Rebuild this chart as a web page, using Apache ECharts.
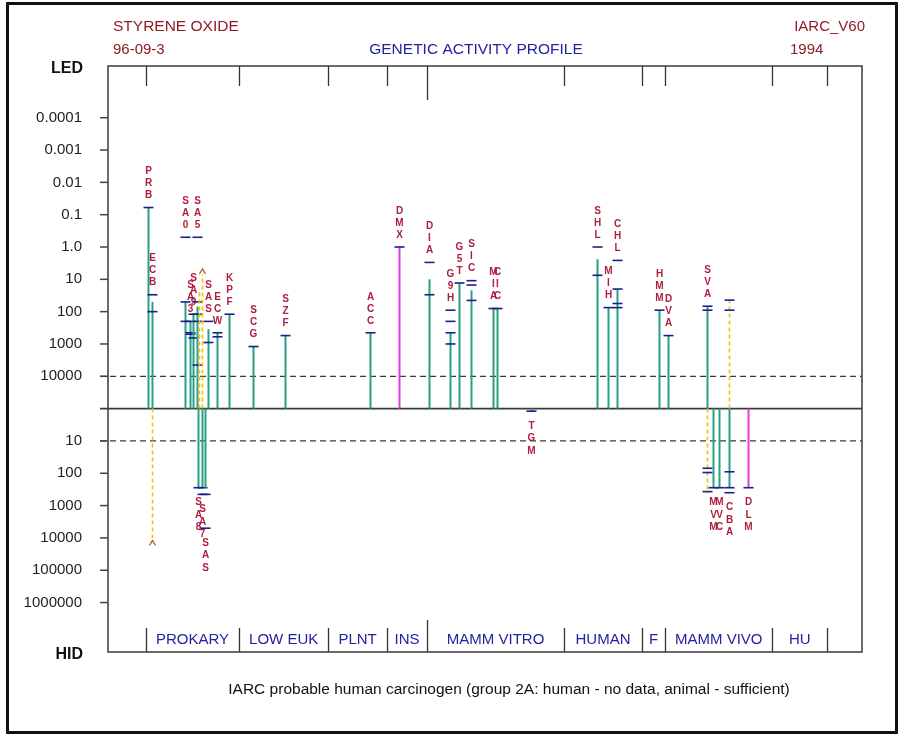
<!DOCTYPE html>
<html>
<head>
<meta charset="utf-8">
<title>Styrene oxide – genetic activity profile</title>
<script src="https://cdn.jsdelivr.net/npm/echarts@6/dist/echarts.min.js"></script>
<style>
  html, body { margin: 0; padding: 0; background: #fff; }
  #chart { width: 902px; height: 736px; }
</style>
</head>
<body>
<div id="chart"></div>
<script>
// ---- Test results (LED = lowest effective dose, HID = highest ineffective dose) ----
const testCodes     = ['PRB','ECB','','SA0','SA3','SA9','SA5','','','SAS','ECW','KPF','SCG','SZF','SA8','SA7','SAS',
                       'ACC','DMX','DIA','G9H','G5T','SIC','MIA','CIC','TGM',
                       'SHL','MIH','CHL','HMM','DVA','SVA','','MVM','MVC','CBA','','DLM'];
// position of each test along the profile (0–100 across the panel)
const testPositions = [5.37,5.90,5.85,10.15,10.81,11.27,11.87,12.13,12.47,13.30,14.50,16.09,19.23,23.54,11.96,12.41,12.86,
                       34.75,38.63,42.61,45.36,46.55,48.14,51.02,51.63,56.06,
                       64.79,66.35,67.55,73.08,74.31,79.40,79.40,80.19,81.03,82.32,82.32,84.92];
// L = positive result (LED, drawn upward), H = negative result (HID, drawn downward)
const resultSides   = ['L','L','H','L','L','L','L','L','L','L','L','L','L','L','H','H','H',
                       'L','L','L','L','L','L','L','L','H',
                       'L','L','L','L','L','L','H','H','H','H','L','H'];
// g = standard result, m = magenta result, y = dashed result
const lineKinds     = ['g','g','y','g','g','g','g','y','y','g','g','g','g','g','g','g','g',
                       'g','m','g','g','g','g','g','g','g',
                       'g','g','g','g','g','g','y','g','g','g','y','m'];
const lineDoses     = [0.06,50,10000,50,200,120,70,20,7,350,450,120,1200,550,280,280,280,
                       450,1,10,450,13,22,80,80,1.2,
                       2.4,75,20,90,550,68,420,280,280,280,44,280];
const tickDoses     = [[0.06],[30,100],[],[0.5,50,200],[200,450,500],[120,650],[0.5,50,120,200,4500],[],[],[200,900],[450,600],[120],[1200],[550],[280],[280,450],[450,5000],
                       [450],[1],[3,30],[90,200,450,1000],[13],[11,15,45],[80],[80],[1.2],
                       [1,7.5],[75],[2.6,20,56,75],[90],[550],[68,90],[70,95,370],[280],[280],[90,280,400],[44,90],[280]];
// results beyond the tested range carry an open-end caret
const openEnded     = [false,false,true,false,false,false,false,false,true,false,false,false,false,false,false,false,false,
                       false,false,false,false,false,false,false,false,false,
                       false,false,false,false,false,false,false,false,false,false,false,false];

// ---- Dose scale ----
const ledTickLabels = ['0.0001','0.001','0.01','0.1','1.0','10','100','1000','10000'];
const hidTickLabels = ['10','100','1000','10000','100000','1000000'];
const ledGuideDose = 10000;
const hidGuideDose = 10;

// ---- Phylogenetic sections ----
const sectionEdges = [5.0, 17.4, 29.2, 37.0, 42.3, 60.5, 70.8, 73.9, 88.1, 95.4];
const sectionNames = ['PROKARY','LOW EUK','PLNT','INS','MAMM VITRO','HUMAN','F','MAMM VIVO','HU'];
const majorEdge = 4;

// log-dose transform: LED upward from 100000, HID downward from 1
const ledToV = d => 5 - Math.log10(d);
const hidToV = d => -Math.log10(d);

const Y_MAX = 10.6, Y_MIN = -7.53;
const COLORS = { g: '#27a083', m: '#e43ad8', y: '#f2c200' };
const TICK_BLUE = '#1d1d8e';
const LABEL_RED = '#ad1f3d';
const TEXT_FONT = 'Liberation Sans, Arial, sans-serif';

function renderTest(params, api) {
  const i = api.value(2);
  const x = api.value(0);
  const up = resultSides[i] === 'L';
  const toV = up ? ledToV : hidToV;
  const kind = lineKinds[i];
  const base = api.coord([x, 0]);
  const end = api.coord([x, toV(lineDoses[i])]);
  const px = Math.round(base[0]) + 0.5;
  const children = [];
  children.push({
    type: 'line',
    shape: { x1: px, y1: base[1], x2: px, y2: end[1] },
    style: { stroke: COLORS[kind], lineWidth: kind === 'y' ? 1.6 : 2, lineDash: kind === 'y' ? [4, 3] : null }
  });
  let extreme = end[1];
  tickDoses[i].forEach(d => {
    const ty = api.coord([x, toV(d)])[1];
    extreme = up ? Math.min(extreme, ty) : Math.max(extreme, ty);
    children.push({
      type: 'line',
      shape: { x1: px - 5, y1: ty, x2: px + 5, y2: ty },
      style: { stroke: TICK_BLUE, lineWidth: 1.6 }
    });
  });
  if (openEnded[i]) {
    const cy = up ? end[1] - 3 : end[1] + 5;
    children.push({
      type: 'polyline',
      shape: { points: [[px - 3, cy + 2.5], [px, cy - 2.5], [px + 3, cy + 2.5]] },
      style: { stroke: '#b5541e', lineWidth: 1.2, fill: null }
    });
  }
  const letters = testCodes[i].split('');
  letters.forEach((ch, k) => {
    const ly = up ? extreme - 12 - 12 * (letters.length - 1 - k) : extreme + 15 + 12.5 * k;
    children.push({
      type: 'text',
      style: { text: ch, x: px, y: ly, textAlign: 'center', textVerticalAlign: 'middle',
               fill: LABEL_RED, font: 'bold 10px ' + TEXT_FONT }
    });
  });
  return { type: 'group', children };
}

// y-axis ticks drawn on the left frame edge
const axisTicks = [
  ...ledTickLabels.map((t, k) => [ledToV(parseFloat(t)), 0, k]),
  ...hidTickLabels.map((t, k) => [hidToV(parseFloat(t)), 1, k])
];
function renderAxisTick(params, api) {
  const v = api.value(0);
  const label = api.value(1) === 0 ? ledTickLabels[api.value(2)] : hidTickLabels[api.value(2)];
  const p = api.coord([0, v]);
  return {
    type: 'group',
    children: [
      { type: 'line', shape: { x1: p[0] - 8, y1: p[1], x2: p[0], y2: p[1] }, style: { stroke: '#444', lineWidth: 1.5 } },
      { type: 'text', style: { text: label, x: p[0] - 26, y: p[1], textAlign: 'right', textVerticalAlign: 'middle',
                               fill: '#1e1e1e', font: '15px ' + TEXT_FONT } }
    ]
  };
}

// zero line and the two guide levels
const refLines = [[0, 0], [ledToV(ledGuideDose), 1], [hidToV(hidGuideDose), 1]];
function renderRefLine(params, api) {
  const v = api.value(0);
  const dashed = api.value(1) === 1;
  const a = api.coord([0, v]);
  const b = api.coord([100, v]);
  return {
    type: 'line',
    shape: { x1: a[0] - 8, y1: a[1], x2: b[0], y2: b[1] },
    style: { stroke: '#3a3a3a', lineWidth: dashed ? 1.3 : 1.6, lineDash: dashed ? [6, 4] : null }
  };
}

// section dividers and names
const sectionData = sectionEdges.map((e, k) => [e, k]);
function renderSection(params, api) {
  const e = api.value(0);
  const k = api.value(1);
  const top = api.coord([e, Y_MAX]);
  const bottom = api.coord([e, Y_MIN]);
  const major = k === majorEdge;
  const x = Math.round(top[0]) + 0.5;
  const children = [
    { type: 'line', shape: { x1: x, y1: top[1], x2: x, y2: top[1] + (major ? 34 : 20) }, style: { stroke: '#333', lineWidth: 1.3 } },
    { type: 'line', shape: { x1: x, y1: bottom[1], x2: x, y2: bottom[1] - (major ? 32 : 24) }, style: { stroke: '#333', lineWidth: 1.3 } }
  ];
  if (k < sectionNames.length) {
    const next = api.coord([sectionEdges[k + 1], Y_MIN]);
    children.push({
      type: 'text',
      style: { text: sectionNames[k], x: (top[0] + next[0]) / 2, y: bottom[1] - 12, textAlign: 'center',
               textVerticalAlign: 'middle', fill: '#2323a0', font: '15px ' + TEXT_FONT }
    });
  }
  return { type: 'group', children };
}

const chart = echarts.init(document.getElementById('chart'), null, { renderer: 'canvas' });
chart.setOption({
  animation: false,
  backgroundColor: '#ffffff',
  grid: { left: 108, right: 40, top: 66, bottom: 84, show: true, borderColor: '#3a3a3a', borderWidth: 1.5 },
  xAxis: { type: 'value', min: 0, max: 100, show: false },
  yAxis: { type: 'value', min: Y_MIN, max: Y_MAX, show: false },
  graphic: [
    { type: 'rect', shape: { x: 7.5, y: 3.5, width: 889, height: 729 }, style: { fill: null, stroke: '#111', lineWidth: 3 } },
    { type: 'text', style: { text: 'STYRENE OXIDE', x: 113, y: 27, textVerticalAlign: 'middle', fill: '#8e1d24', font: '15.5px ' + TEXT_FONT } },
    { type: 'text', style: { text: '96-09-3', x: 113, y: 50, textVerticalAlign: 'middle', fill: '#8e1d24', font: '15px ' + TEXT_FONT } },
    { type: 'text', style: { text: 'GENETIC ACTIVITY PROFILE', x: 476, y: 50, textAlign: 'center', textVerticalAlign: 'middle', fill: '#2323a0', font: '15.5px ' + TEXT_FONT } },
    { type: 'text', style: { text: 'IARC_V60', x: 865, y: 27, textAlign: 'right', textVerticalAlign: 'middle', fill: '#8e1d24', font: '15px ' + TEXT_FONT } },
    { type: 'text', style: { text: '1994', x: 790, y: 50, textVerticalAlign: 'middle', fill: '#8e1d24', font: '15px ' + TEXT_FONT } },
    { type: 'text', style: { text: 'LED', x: 83, y: 69, textAlign: 'right', textVerticalAlign: 'middle', fill: '#111', font: 'bold 16px ' + TEXT_FONT } },
    { type: 'text', style: { text: 'HID', x: 83, y: 655, textAlign: 'right', textVerticalAlign: 'middle', fill: '#111', font: 'bold 16px ' + TEXT_FONT } },
    { type: 'text', style: { text: 'IARC probable human carcinogen (group 2A: human - no data, animal - sufficient)', x: 509, y: 690,
                             textAlign: 'center', textVerticalAlign: 'middle', fill: '#111', font: '15.5px ' + TEXT_FONT } }
  ],
  series: [
    { type: 'custom', name: 'guides', clip: false, silent: true, renderItem: renderRefLine, data: refLines, z: 1 },
    { type: 'custom', name: 'results', clip: false, silent: true, renderItem: renderTest,
      data: testPositions.map((p, i) => [p, resultSides[i] === 'L' ? ledToV(lineDoses[i]) : hidToV(lineDoses[i]), i]), z: 3 },
    { type: 'custom', name: 'doseAxis', clip: false, silent: true, renderItem: renderAxisTick, data: axisTicks, z: 2 },
    { type: 'custom', name: 'sections', clip: false, silent: true, renderItem: renderSection, data: sectionData, z: 2 }
  ]
});
</script>
</body>
</html>
